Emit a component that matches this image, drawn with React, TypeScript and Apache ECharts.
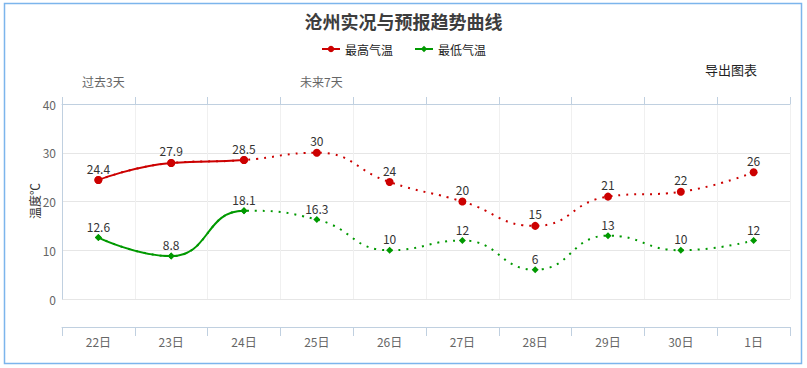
import React, { useEffect, useRef } from "react";
import * as echarts from "echarts";

const categories = ["22日", "23日", "24日", "25日", "26日", "27日", "28日", "29日", "30日", "1日"];
const maxTemps = [24.4, 27.9, 28.5, 30, 24, 20, 15, 21, 22, 26];
const minTemps = [12.6, 8.8, 18.1, 16.3, 10, 12, 6, 13, 10, 12];
const pastCount = 3; // 22, 23, 24 are observed
const yTicks = { min: 0, max: 40, interval: 10 };

const RED = "#cc0000";
const GREEN = "#009900";
const FONT = "'Noto Sans CJK SC', 'Noto Sans', sans-serif";

export default function App() {
  const ref = useRef<HTMLDivElement>(null);
  useEffect(() => {
    if (!ref.current) return;
    const chart = echarts.init(ref.current, undefined, { renderer: "svg" });
    const label = {
      show: true,
      position: "top",
      distance: 2,
      color: "#333",
      fontSize: 12,
      fontFamily: FONT,
    };
    const mk = (name: string, data: number[], color: string, symbol: string, size: number, dotted: boolean) => ({
      name,
      type: "line",
      data,
      smooth: 0.5,
      symbol,
      symbolSize: size,
      itemStyle: { color },
      lineStyle: dotted ? { color, width: 2, type: [2, 6] } : { width: 2, type: "solid" },
      label: dotted ? label : { show: false },
      emphasis: { disabled: true },
      z: dotted ? 2 : 3,
    });
    const last = categories.length - 1;
    const splitVM = (seriesIndex: number, color: string) => ({
      type: "piecewise",
      show: false,
      dimension: 0,
      seriesIndex,
      pieces: [
        { gte: 0, lte: pastCount - 1, color },
        { gt: pastCount - 1, lte: last, color: "rgba(255,255,255,0)" },
      ],
    });
    chart.setOption({
      animation: false,
      textStyle: { fontFamily: FONT },
      title: {
        text: "沧州实况与预报趋势曲线",
        left: "center",
        top: 7,
        textStyle: { fontSize: 18, fontWeight: "bold", color: "#3d3d3d", fontFamily: FONT },
      },
      legend: {
        top: 38,
        left: "center",
        itemWidth: 18,
        itemHeight: 8,
        itemGap: 21,
        data: [
          { name: "最高气温", itemStyle: { color: RED }, lineStyle: { color: RED } },
          { name: "最低气温", itemStyle: { color: GREEN }, lineStyle: { color: GREEN } },
        ],
        textStyle: { fontSize: 12, color: "#222", fontFamily: FONT },
      },
      grid: { left: 62, right: 17, top: 104, height: 195, containLabel: false },
      visualMap: [splitVM(0, RED), splitVM(1, GREEN)],
      xAxis: [
        {
          type: "category",
          data: categories,
          position: "bottom",
          offset: 28,
          boundaryGap: true,
          axisLine: { show: true, onZero: false, lineStyle: { color: "#c0d0e0", width: 1 } },
          axisTick: { show: true, length: 9, interval: 0, lineStyle: { color: "#c0d0e0" } },
          axisLabel: { color: "#666", fontSize: 12, margin: 8, fontFamily: FONT },
          splitLine: { show: true, interval: 0, lineStyle: { color: "#f0f0f0" } },
        },
        {
          type: "category",
          data: categories,
          position: "top",
          boundaryGap: true,
          axisLine: { show: true, onZero: false, lineStyle: { color: "#c0d0e0", width: 1 } },
          axisTick: { show: true, length: 7, interval: 0, lineStyle: { color: "#c0d0e0" } },
          axisLabel: { show: false },
          splitLine: { show: false },
        },
      ],
      yAxis: {
        type: "value",
        min: yTicks.min,
        max: yTicks.max,
        interval: yTicks.interval,
        axisLine: { show: true, lineStyle: { color: "#c0d0e0" } },
        axisTick: { show: false },
        axisLabel: { color: "#666", fontSize: 12, margin: 6, fontFamily: FONT },
        splitLine: { lineStyle: { color: "#e6e6e6" } },
      },
      graphic: [
        {
          type: "rect",
          shape: { x: 4.5, y: 3.5, width: 797, height: 360 },
          style: { fill: "none", stroke: "#7cb5ec", lineWidth: 1.5 },
          silent: true,
        },
        {
          type: "text",
          x: 34,
          y: 201,
          rotation: Math.PI / 2,
          style: { text: "温度℃", fill: "#333", fontSize: 12, fontFamily: FONT, align: "center", verticalAlign: "middle" },
        },
        {
          type: "text",
          x: 82,
          y: 81,
          style: { text: "过去3天", fill: "#666", fontSize: 12, fontFamily: FONT, verticalAlign: "middle" },
        },
        {
          type: "text",
          x: 300,
          y: 81,
          style: { text: "未来7天", fill: "#666", fontSize: 12, fontFamily: FONT, verticalAlign: "middle" },
        },
        {
          type: "text",
          x: 705,
          y: 69,
          style: { text: "导出图表", fill: "#222", fontSize: 13, fontFamily: FONT, verticalAlign: "middle" },
        },
      ],
      series: [
        mk("最高气温", maxTemps, RED, "circle", 8, false),
        mk("最低气温", minTemps, GREEN, "diamond", 7, false),
        mk("最高气温", maxTemps, RED, "circle", 8, true),
        mk("最低气温", minTemps, GREEN, "diamond", 7, true),
      ],
    });
    return () => chart.dispose();
  }, []);
  return (
    <div
      ref={ref}
      style={{ position: "absolute", left: 0, top: 0, width: 807, height: 368, background: "#fff" }}
    />
  );
}
